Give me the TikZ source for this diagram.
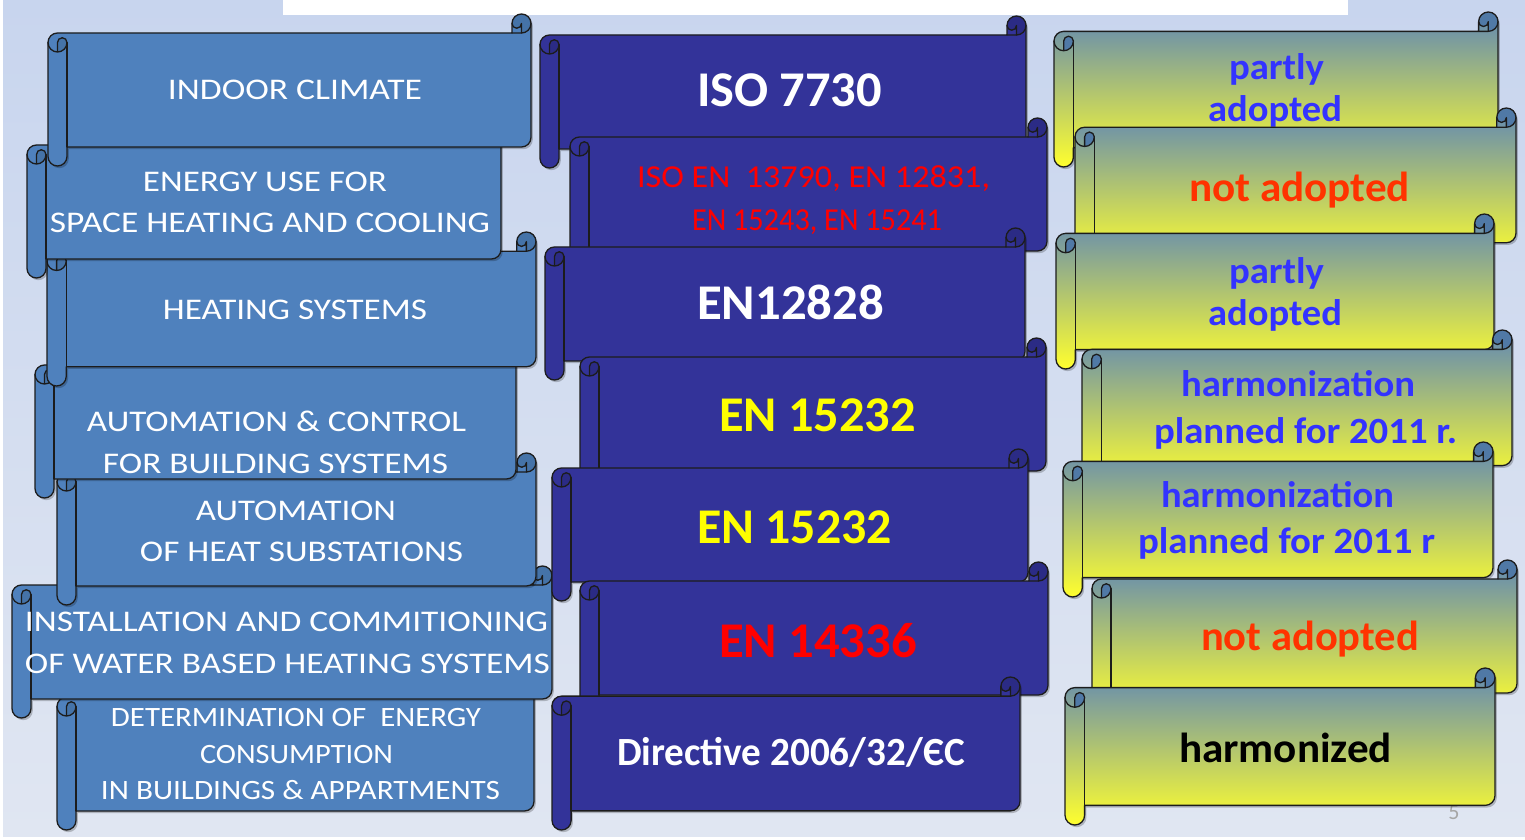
\documentclass[tikz,border=0pt]{standalone}
\usepackage{fontspec}
\setmainfont{Carlito}
\usepackage{graphicx}
\definecolor{bgtop}{HTML}{C8D5EE}
\definecolor{bgbot}{HTML}{E0E6F2}
\definecolor{colA}{HTML}{4F81BD}
\definecolor{colAd}{HTML}{4573A8}
\definecolor{colB}{HTML}{333399}
\definecolor{colBd}{HTML}{2B2B85}
\definecolor{gtop}{HTML}{5F87B5}
\definecolor{gmid}{HTML}{C6C58A}
\definecolor{gbot}{HTML}{FFFF2E}
\definecolor{colCd}{HTML}{5079A6}
\definecolor{tblue}{HTML}{3333FF}
\definecolor{torange}{HTML}{FF3300}
\definecolor{tred}{HTML}{FF0000}
\definecolor{tyel}{HTML}{FFFF00}
\definecolor{edge}{HTML}{1C1C1C}
\definecolor{pgnum}{HTML}{A6A6A6}
\newcommand{\fitw}[2]{\resizebox{#1pt}{\height}{#2}}
% \banner{l}{t}{r}{b}{fill options}{curl colour}  (pixel coordinates, y downwards)
\newcommand{\banner}[6]{%
 \pgfmathsetmacro{\bnL}{#1}%
 \pgfmathsetmacro{\bnR}{#3}%
 \pgfmathsetmacro{\bnT}{839-#2}%
 \pgfmathsetmacro{\bnB}{839-#4}%
 \pgfmathsetmacro{\bnc}{0.125*(#4-#2)}%
 \pgfmathsetmacro{\bnh}{\bnc/2}%
 \pgfmathsetmacro{\bnq}{\bnc/4}%
 \pgfmathsetmacro{\byA}{\bnT-\bnh}%
 \pgfmathsetmacro{\byB}{\bnT-\bnc}%
 \pgfmathsetmacro{\byC}{\bnT-1.5*\bnc}%
 \pgfmathsetmacro{\byD}{\bnT-2*\bnc}%
 \pgfmathsetmacro{\byE}{\bnB+1.5*\bnc}%
 \pgfmathsetmacro{\byF}{\bnB+\bnc}%
 \pgfmathsetmacro{\byG}{\bnB+\bnh}%
 \pgfmathsetmacro{\bxA}{\bnR-\bnc}%
 \pgfmathsetmacro{\bxB}{\bnR-\bnh}%
 \pgfmathsetmacro{\bxC}{\bnL+\bnc}%
 \pgfmathsetmacro{\bxD}{\bnL+\bnh}%
 \def\bnpath{(\bnL,\byC) arc[start angle=180,delta angle=-90,radius=\bnh] -- (\bxA,\byB) -- (\bxA,\byA) arc[start angle=180,delta angle=-180,radius=\bnh] -- (\bnR,\byE) arc[start angle=0,delta angle=-90,radius=\bnh] -- (\bxC,\byF) -- (\bxC,\byG) arc[start angle=0,delta angle=-180,radius=\bnh] -- cycle}%
 \fill[black,opacity=.22,shift={(1.8,-2.2)}] \bnpath;
 \path[#5] \bnpath;
 \fill[#6] (\bxD,\byD) arc[start angle=-90,delta angle=90,radius=\bnh] arc[start angle=0,delta angle=180,radius=\bnq] -- cycle;
 \fill[#6] (\bxB,\byB) arc[start angle=-90,delta angle=270,radius=\bnh] arc[start angle=180,delta angle=180,radius=\bnq] -- cycle;
 \draw[scrline] \bnpath;
 \draw[scrline] (\bxA,\byB) -- (\bxB,\byB) arc[start angle=-90,delta angle=90,radius=\bnh];
 \draw[scrline] (\bxB,\byB) -- (\bxB,\byA) arc[start angle=0,delta angle=-180,radius=\bnq];
 \draw[scrline] (\bxD,\byD) -- (\bxD,\byC) arc[start angle=180,delta angle=-180,radius=\bnq] arc[start angle=0,delta angle=-180,radius=\bnh];
 \draw[scrline] (\bxC,\byC) -- (\bxC,\byF);
}
\begin{document}
\begin{tikzpicture}[x=1pt,y=1pt,
  scrline/.style={draw=edge,line width=1.3pt,line join=round,line cap=round},
  fillA/.style={fill=colA},
  fillB/.style={fill=colB},
  fillC/.style={top color=gtop,middle color=gmid,bottom color=gbot},
  lbl/.style={anchor=base,inner sep=0pt,outer sep=0pt},
  ta/.style={lbl,text=white,font=\fontsize{30}{30}\selectfont},
  tas/.style={lbl,text=white,font=\fontsize{28}{28}\selectfont},
  tbig/.style={lbl,font=\fontsize{50}{50}\selectfont\bfseries},
  tbred/.style={lbl,text=tred,font=\fontsize{32}{32}\selectfont},
  tdir/.style={lbl,text=white,font=\fontsize{40}{40}\selectfont\bfseries},
  tc/.style={lbl,font=\fontsize{37}{37}\selectfont\bfseries},
  tcl/.style={lbl,font=\fontsize{42}{42}\selectfont\bfseries}]
\useasboundingbox (0,0) rectangle (1525,839);
% background
\fill[white] (0,0) rectangle (1525,839);
\shade[top color=bgtop,bottom color=bgbot] (3,3) rectangle (1525,839);
\fill[white] (283,824) rectangle (1348,839);
% page number
\node[text=pgnum,font=\fontsize{22}{22}\selectfont,inner sep=0pt] (pg) at (1454,26) {5};

% ---------- column 1 (drawn bottom to top) ----------
\banner{57}{678}{534}{830}{fillA}{colAd}
\node[tas] (A7a) at (296,839-726) {\fitw{370}{DETERMINATION OF\ \ ENERGY}};
\node[tas] (A7b) at (296.5,839-763) {\fitw{193}{CONSUMPTION}};
\node[tas] (A7c) at (300.5,839-799) {\fitw{399}{IN BUILDINGS \& APPARTMENTS}};
\banner{12}{566}{552}{718}{fillA}{colAd}
\node[ta] (A6a) at (286.5,839-631) {\fitw{523}{INSTALLATION AND COMMITIONING}};
\node[ta] (A6b) at (287.5,839-673) {\fitw{525}{OF WATER BASED HEATING SYSTEMS}};
\banner{57}{453}{536}{605}{fillA}{colAd}
\node[ta] (A5a) at (296,839-520) {\fitw{200}{AUTOMATION}};
\node[ta] (A5b) at (301.5,839-561) {\fitw{323}{OF HEAT SUBSTATIONS}};
\banner{35}{346}{516}{498}{fillA}{colAd}
\node[ta] (A4a) at (276.5,839-431) {\fitw{379}{AUTOMATION \& CONTROL}};
\node[ta] (A4b) at (275.5,839-473) {\fitw{345}{FOR BUILDING SYSTEMS}};
\banner{47}{232}{536}{386}{fillA}{colAd}
\node[ta] (A3a) at (295,839-320) {\fitw{264}{HEATING SYSTEMS}};
\banner{27}{126}{501}{278}{fillA}{colAd}
\node[ta] (A2a) at (265,839-192) {\fitw{244}{ENERGY USE FOR}};
\node[ta] (A2b) at (270,839-233) {\fitw{440}{SPACE HEATING AND COOLING}};
\banner{48}{14}{531}{166}{fillA}{colAd}
\node[ta] (A1a) at (295,839-100) {\fitw{254}{INDOOR CLIMATE}};

% ---------- column 2 (drawn top to bottom) ----------
\banner{540}{16}{1026}{168}{fillB}{colBd}
\node[tbig,text=white] (B1a) at (789.5,839-107) {\fitw{185}{ISO 7730}};
\banner{570}{118}{1047}{270}{fillB}{colBd}
\node[tbred] (B2a) at (813.5,839-188) {\fitw{353}{ISO EN\ \ 13790, EN 12831,}};
\node[tbred] (B2b) at (817,839-231) {\fitw{250}{EN 15243, EN 15241}};
\banner{545}{228}{1025}{380}{fillB}{colBd}
\node[tbig,text=white] (B3a) at (790.5,839-320) {\fitw{187}{EN12828}};
\banner{580}{338}{1046}{490}{fillB}{colBd}
\node[tbig,text=tyel] (B4a) at (817.5,839-432) {\fitw{197}{EN 15232}};
\banner{552}{449}{1028}{601}{fillB}{colBd}
\node[tbig,text=tyel] (B5a) at (794.5,839-543) {\fitw{195}{EN 15232}};
\banner{580}{562}{1048}{714}{fillB}{colBd}
\node[tbig,text=tred] (B6a) at (818,839-657) {\fitw{198}{EN 14336}};
\banner{552}{677}{1020}{830}{fillB}{colBd}
\node[tdir] (B7a) at (791,839-765) {\fitw{348}{Directive 2006/32/ЄC}};

% ---------- column 3 (drawn top to bottom) ----------
\banner{1054}{12}{1498}{167}{fillC}{colCd}
\node[tc,text=tblue] (C1a) at (1276.5,839-80) {\fitw{95}{partly}};
\node[tc,text=tblue] (C1b) at (1275,839-122) {\fitw{134}{adopted}};
\banner{1075}{108}{1516}{262}{fillC}{colCd}
\node[tcl,text=torange] (C2a) at (1299.5,839-202) {\fitw{221}{not adopted}};
\banner{1056}{214}{1494}{369}{fillC}{colCd}
\node[tc,text=tblue] (C3a) at (1276.5,839-284) {\fitw{95}{partly}};
\node[tc,text=tblue] (C3b) at (1275,839-326) {\fitw{134}{adopted}};
\banner{1082}{330}{1512}{485}{fillC}{colCd}
\node[tc,text=tblue] (C4a) at (1298,839-397) {\fitw{234}{harmonization}};
\node[tc,text=tblue] (C4b) at (1305.5,839-443) {\fitw{303}{planned for 2011 r.}};
\banner{1063}{442}{1493}{597}{fillC}{colCd}
\node[tc,text=tblue] (C5a) at (1277.5,839-507) {\fitw{233}{harmonization}};
\node[tc,text=tblue] (C5b) at (1286.5,839-553) {\fitw{297}{planned for 2011 r}};
\banner{1092}{560}{1517}{712}{fillC}{colCd}
\node[tcl,text=torange] (C6a) at (1310,839-650) {\fitw{218}{not adopted}};
\banner{1065}{668}{1495}{825}{fillC}{colCd}
\node[tcl,text=black] (C7a) at (1285.5,839-762) {\fitw{213}{harmonized}};
\end{tikzpicture}
\end{document}
